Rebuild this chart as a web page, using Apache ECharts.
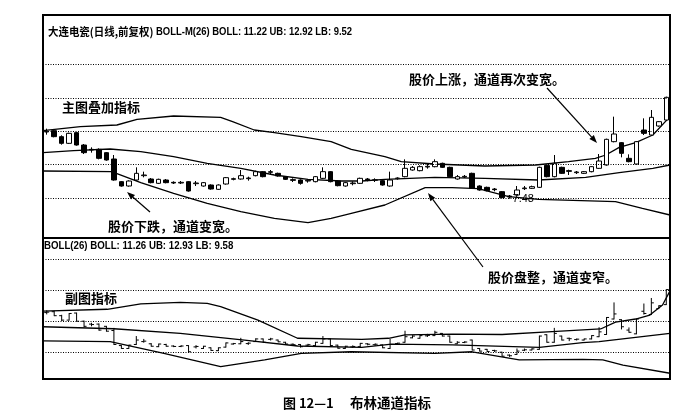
<!DOCTYPE html>
<html>
<head>
<meta charset="utf-8">
<script src="https://cdn.jsdelivr.net/npm/echarts@6/dist/echarts.min.js"></script>
<style>
  html, body { margin: 0; padding: 0; background: #fff; }
  #chart { width: 695px; height: 419px; }
</style>
</head>
<body>
<div id="chart"></div>
<script>
// 日K数据 [开, 收, 低, 高]
const ohlc = [
  [9.48, 9.50, 9.40, 9.58], [9.52, 9.34, 9.32, 9.56], [9.34, 9.14, 9.10, 9.38], [9.14, 9.44, 9.12, 9.46],
  [9.46, 9.09, 9.07, 9.48], [9.09, 8.86, 8.82, 9.12], [8.96, 8.94, 8.86, 9.02], [8.96, 8.69, 8.66, 8.99],
  [8.86, 8.64, 8.62, 8.88], [8.67, 8.04, 8.02, 8.79], [7.99, 7.86, 7.84, 8.01], [7.86, 8.01, 7.84, 8.03],
  [8.04, 8.24, 8.02, 8.42], [8.17, 8.19, 8.12, 8.29], [8.07, 7.96, 7.94, 8.10], [7.94, 8.06, 7.92, 8.08],
  [8.04, 7.96, 7.94, 8.07], [7.97, 7.95, 7.92, 8.00], [7.95, 7.97, 7.92, 8.01], [7.99, 7.71, 7.69, 8.01],
  [7.93, 7.95, 7.86, 8.01], [7.86, 7.96, 7.84, 7.98], [7.89, 7.77, 7.75, 7.91], [7.76, 7.89, 7.74, 7.91],
  [7.92, 8.11, 7.90, 8.13], [8.06, 8.08, 8.03, 8.11], [8.07, 8.17, 8.05, 8.34], [8.08, 8.10, 8.02, 8.14],
  [8.17, 8.29, 8.15, 8.32], [8.29, 8.14, 8.12, 8.31], [8.27, 8.29, 8.22, 8.34], [8.24, 8.16, 8.14, 8.26],
  [8.14, 8.06, 8.04, 8.16], [8.05, 8.03, 7.98, 8.09], [8.04, 7.94, 7.90, 8.06], [8.01, 8.03, 7.96, 8.07],
  [7.99, 8.14, 7.97, 8.16], [8.09, 8.29, 8.07, 8.42], [8.29, 7.99, 7.97, 8.31], [8.01, 7.87, 7.85, 8.03],
  [7.86, 7.96, 7.84, 7.98], [7.93, 7.95, 7.88, 8.00], [7.94, 8.09, 7.92, 8.11], [8.07, 8.05, 8.00, 8.10],
  [8.03, 8.05, 7.98, 8.09], [8.02, 7.89, 7.87, 8.04], [7.86, 8.04, 7.84, 8.29], [8.08, 8.10, 8.05, 8.12],
  [8.14, 8.39, 8.12, 8.66], [8.34, 8.42, 8.32, 8.46], [8.32, 8.44, 8.30, 8.48], [8.43, 8.45, 8.38, 8.52],
  [8.44, 8.59, 8.42, 8.66], [8.54, 8.42, 8.40, 8.56], [8.42, 8.14, 8.12, 8.44], [8.07, 8.14, 8.05, 8.19],
  [8.13, 8.15, 8.10, 8.19], [8.24, 7.79, 7.77, 8.26], [7.86, 7.74, 7.72, 7.88], [7.82, 7.72, 7.70, 7.84],
  [7.77, 7.75, 7.70, 7.80], [7.69, 7.51, 7.49, 7.71], [7.56, 7.53, 7.48, 7.59], [7.59, 7.74, 7.57, 7.86],
  [7.78, 7.80, 7.74, 7.86], [7.79, 7.84, 7.77, 7.87], [7.82, 8.42, 7.80, 8.44], [8.48, 8.14, 8.12, 8.50],
  [8.14, 8.54, 8.12, 8.79], [8.42, 8.24, 8.22, 8.44], [8.32, 8.30, 8.19, 8.35], [8.26, 8.28, 8.22, 8.31],
  [8.24, 8.29, 8.22, 8.31], [8.29, 8.44, 8.27, 8.46], [8.39, 8.61, 8.37, 8.82], [8.49, 9.26, 8.47, 9.28],
  [9.19, 9.42, 9.17, 9.94], [9.16, 8.84, 8.72, 9.18], [8.69, 8.59, 8.57, 8.81], [8.52, 9.19, 8.50, 9.21],
  [9.54, 9.44, 9.39, 9.89], [9.39, 9.92, 9.37, 10.14], [9.66, 9.79, 9.64, 9.81], [9.84, 10.52, 9.82, 10.54]
]
const days = ohlc.map((d, i) => String(i + 1))

// 主图 BOLL-M 通道 [序号, 价格]
const mainUB = [[-0.5, 9.52], [4.5, 9.64], [9.4, 9.69], [12.1, 9.86], [17, 9.96], [23.3, 9.92], [24.9, 9.79],
  [27.8, 9.54], [30.5, 9.46], [34.1, 9.34], [38.1, 9.19], [40.8, 8.96], [45.3, 8.74], [47.5, 8.59], [52, 8.52],
  [58.7, 8.46], [65.5, 8.49], [69.9, 8.59], [73.5, 8.69], [74.9, 8.79], [76.7, 9.02], [78.9, 9.16], [81.2, 9.39], [83.5, 9.94]]
const mainMid = [[-0.5, 8.86], [3.6, 8.92], [8.5, 8.97], [12.6, 8.89], [17, 8.74], [21.5, 8.54], [26, 8.39],
  [30.5, 8.19], [35, 8.06], [39.5, 8.01], [42.2, 8.01], [45.3, 8.06], [52, 8.12], [58.7, 8.09], [65.9, 8.04],
  [72.2, 8.12], [76.7, 8.26], [81.2, 8.39], [83.5, 8.49]]
const mainLB = [[-0.5, 8.31], [8.7, 8.29], [12.6, 7.96], [17, 7.64], [21.5, 7.34], [26, 7.09], [30.5, 6.89],
  [35, 6.76], [38.1, 6.89], [40.8, 7.04], [45.3, 7.29], [50.7, 7.81], [54.3, 7.81], [57.8, 7.78], [61.9, 7.54],
  [65.9, 7.46], [76.2, 7.39], [79.8, 7.19], [83.5, 6.99]]

// 副图 BOLL 通道
const subUB = [[-0.5, 9.55], [8.1, 9.63], [12.6, 9.87], [17.9, 9.94], [21.5, 9.90], [23.3, 9.75], [28.3, 9.14],
  [33.6, 8.32], [42.2, 8.27], [45.8, 8.32], [48, 8.47], [54.3, 8.51], [61, 8.49], [67.7, 8.62], [74.2, 8.74],
  [76.2, 9.05], [78.9, 9.19], [80.8, 9.37], [82.5, 9.82], [83.5, 10.46]]
const subMid = [[-0.5, 8.84], [9, 8.75], [17.9, 8.54], [26.5, 8.24], [33.6, 7.97], [42.2, 7.91], [46.2, 8.06],
  [54.3, 8.02], [66, 7.91], [71.8, 8.12], [74, 8.17], [83.5, 8.54]]
const subLB = [[-0.5, 8.20], [8.5, 8.17], [15.7, 7.64], [23.3, 7.04], [29.2, 7.34], [34.1, 7.64], [40.8, 7.71],
  [52, 7.64], [57, 7.71], [63.3, 7.34], [71.8, 7.37], [74.5, 7.34], [77.2, 7.11], [83.5, 6.74]]

// 虚线网格位置
const mainGridLines = [7.5, 8.5, 9.5, 10.5, 11.5]
const subGridLines = [7.7, 9.1, 10.5, 11.9]

const BLACK = '#000'
const CJK = '"Noto Sans CJK SC", sans-serif'
const LATIN = '"Liberation Sans", ' + CJK

// 箭头标注
function arrow(x1, y1, x2, y2) {
  const a = Math.atan2(y2 - y1, x2 - x1)
  const L = 8, W = 3
  const bx = x2 - L * Math.cos(a), by = y2 - L * Math.sin(a)
  return [
    { type: 'line', shape: { x1, y1, x2: bx, y2: by }, style: { stroke: BLACK, lineWidth: 1.2 } },
    { type: 'polygon', shape: { points: [[x2, y2], [bx + W * Math.sin(a), by - W * Math.cos(a)], [bx - W * Math.sin(a), by + W * Math.cos(a)]] }, style: { fill: BLACK } }
  ]
}

function label(text, x, y, font, sx) {
  return {
    type: 'text', x, y, scaleX: sx || 1, z: 100,
    style: { text, x: 0, y: 0, font, fill: BLACK, verticalAlign: 'middle' }
  }
}

function bandLine(data, xi, yi, grid) {
  const s = {
    type: 'line', xAxisIndex: xi, yAxisIndex: yi, data, showSymbol: false, silent: true, z: 2,
    lineStyle: { color: BLACK, width: 1.3 }
  }
  if (grid) {
    s.markLine = {
      silent: true, symbol: 'none', label: { show: false },
      lineStyle: { color: BLACK, type: [1, 1.5], width: 1 },
      data: grid.map(v => ({ yAxis: v }))
    }
  }
  return s
}

const chart = echarts.init(document.getElementById('chart'))

const option = {
  animation: false,
  backgroundColor: '#fff',
  grid: [
    { left: 43, right: 25, top: 15, height: 223, show: true, borderColor: BLACK, borderWidth: 2 },
    { left: 43, right: 25, top: 238, height: 141, show: true, borderColor: BLACK, borderWidth: 2 }
  ],
  xAxis: [
    { type: 'category', gridIndex: 0, data: days, show: false },
    { type: 'value', gridIndex: 0, min: -0.5, max: 83.5, show: false },
    { type: 'category', gridIndex: 1, data: days, show: false },
    { type: 'value', gridIndex: 1, min: -0.5, max: 83.5, show: false }
  ],
  yAxis: [
    { type: 'value', gridIndex: 0, min: 6.3, max: 12.99, show: false, splitLine: { show: false } },
    { type: 'value', gridIndex: 1, min: 6.48, max: 12.85, show: false, splitLine: { show: false } }
  ],
  series: [
    bandLine(mainUB, 1, 0, mainGridLines),
    bandLine(mainMid, 1, 0),
    bandLine(mainLB, 1, 0),
    {
      type: 'candlestick', xAxisIndex: 0, yAxisIndex: 0, data: ohlc, barWidth: 5, z: 3,
      itemStyle: { color: '#fff', color0: BLACK, borderColor: BLACK, borderColor0: BLACK, borderWidth: 1 },
      markPoint: {
        symbol: 'circle', symbolSize: 0,
        label: { show: true, position: 'right', distance: 3, color: BLACK, fontSize: 11, fontFamily: 'Liberation Sans', formatter: p => p.value.toFixed(2) },
        data: [{ type: 'min', valueDim: 'lowest' }]
      }
    },
    bandLine(subUB, 3, 1, subGridLines),
    bandLine(subMid, 3, 1),
    bandLine(subLB, 3, 1),
    {
      // 副图美国线
      type: 'custom', xAxisIndex: 2, yAxisIndex: 1, z: 3,
      data: ohlc.map((d, i) => [i, d[0], d[1], d[2], d[3]]),
      encode: { x: 0, y: [1, 2, 3, 4] },
      renderItem: (params, api) => {
        const i = api.value(0)
        const hi = api.coord([i, api.value(4)])
        const lo = api.coord([i, api.value(3)])
        const op = api.coord([i, api.value(1)])
        const cl = api.coord([i, api.value(2)])
        const st = { stroke: BLACK, lineWidth: 1 }
        return {
          type: 'group',
          children: [
            { type: 'line', shape: { x1: hi[0], y1: hi[1], x2: lo[0], y2: lo[1] }, style: st },
            { type: 'line', shape: { x1: op[0] - 2.5, y1: op[1], x2: op[0], y2: op[1] }, style: st },
            { type: 'line', shape: { x1: cl[0], y1: cl[1], x2: cl[0] + 2.5, y2: cl[1] }, style: st }
          ]
        }
      }
    }
  ],
  graphic: [
    label('大连电瓷(日线,前复权)', 48, 32, 'bold 11px ' + CJK, 0.95),
    label('BOLL-M(26) BOLL: 11.22 UB: 12.92 LB: 9.52', 156, 32, 'bold 11px ' + LATIN, 0.86),
    label('BOLL(26) BOLL: 11.26 UB: 12.93 LB: 9.58', 44, 246, 'bold 11px ' + LATIN, 0.88),
    label('主图叠加指标', 62, 107, 'bold 13px ' + CJK),
    label('副图指标', 65, 298, 'bold 13px ' + CJK),
    label('股价下跌，通道变宽。', 108, 226, 'bold 13px ' + CJK),
    label('股价上涨，通道再次变宽。', 409, 79, 'bold 13px ' + CJK),
    label('股价盘整，通道变窄。', 488, 277, 'bold 13px ' + CJK),
    label('图 12—1', 283, 403, 'bold 13px ' + CJK),
    label('布林通道指标', 350, 403, 'bold 13.5px ' + CJK),
    ...arrow(150, 212, 127, 192),
    ...arrow(547, 88, 597, 143),
    ...arrow(483, 267, 428, 193)
  ]
}

chart.setOption(option)
window.addEventListener('resize', () => chart.resize())
</script>
</body>
</html>
